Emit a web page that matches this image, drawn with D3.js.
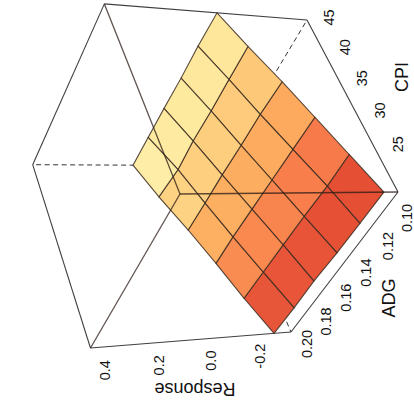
<!DOCTYPE html>
<html><head><meta charset="utf-8"><script src="https://d3js.org/d3.v7.min.js"></script>
<style>html,body{margin:0;padding:0;background:#fff;overflow:hidden}svg{display:block}text{font-family:"Liberation Sans",Arial,sans-serif;fill:#111}</style></head>
<body><svg id="c" width="414" height="410"></svg>
<script>
// Data
const adgGrid=[0.10,0.12,0.14,0.16,0.18,0.20];
const cpiGrid=[18.8,24.0,29.3,34.5,39.8,45.0];
const response=[
[-0.269,-0.267,-0.264,-0.256,-0.257,-0.253],
[-0.209,-0.210,-0.202,-0.198,-0.194,-0.190],
[-0.148,-0.144,-0.140,-0.136,-0.132,-0.133],
[-0.088,-0.080,-0.079,-0.075,-0.075,-0.073],
[-0.020,-0.019,-0.019,-0.015,-0.020,-0.005],
[0.040,0.045,0.045,0.049,0.051,0.053]];
const adgTicks=["0.10","0.12","0.14","0.16","0.18","0.20"];
const cpiTicks=["25","30","35","40","45"];
const respTicks=["-0.2","0.0","0.2","0.4"];
const colorLevels=[-0.239,-0.224,-0.178,-0.162,-0.11,-0.05,-0.043,0.011,0.02];
const colorValues=["#E55035","#E85639","#F77B4A","#F98C50","#FDAC5F","#FDCA7A","#FDD383","#FEE79A","#FEEDA6"];

const u=d3.scaleLinear().domain([0.10,0.20]).range([0,1]);
const v=d3.scaleLinear().domain([18.8,45]).range([0,1]);
const t=d3.scaleLinear().domain([-0.325,0.454]).range([0,1]);
const color=d3.scaleLinear().domain(colorLevels).range(colorValues);
// how far ADG labels stand off the box edge, along the CPI and Response directions
const adgOffV=d3.scaleLinear().domain([0,1]).range([-0.133,-0.07]);
const adgOffT=d3.scaleLinear().domain([0,0.2,1]).range([0.022,-0.012,-0.06]);

// perspective view of the unit box
const C=[398,192],D=[291,332],B=[307,20],H=[180,194];
const wa=.134,wb=.115,wc=-.105;
function proj(a,b,c){
  const w=1+wa*a+wb*b+wc*c;
  return [0,1].map(k=>(C[k]+a*((1+wa)*D[k]-C[k])+b*((1+wb)*B[k]-C[k])+c*((1+wc)*H[k]-C[k]))/w);
}
const svg=d3.select("#c");
const line=d3.line();
const ink="#2a2a2a";
const edge=(p,q,cls)=>svg.append("path").attr("d",line([proj(...p),proj(...q)])).attr("fill","none").attr("stroke",cls.c||ink).attr("stroke-width",cls.w||1).attr("stroke-opacity",cls.o||1).attr("stroke-dasharray",cls.d||null);

// hidden box edges
const dash={d:"5,3.5",c:"#333"};
edge([1,1,0],[1,1,1],dash);edge([1,1,0],[0,1,0],dash);edge([1,1,0],[1,0,0],dash);

// surface cells
const g=svg.append("g");
for(let j=0;j<cpiGrid.length-1;j++)for(let i=0;i<adgGrid.length-1;i++){
  const n=(a,b)=>proj(u(adgGrid[a]),v(cpiGrid[b]),t(response[b][a]));
  const mean=d3.mean([response[j][i],response[j][i+1],response[j+1][i],response[j+1][i+1]]);
  g.append("path").attr("d",line([n(i,j),n(i+1,j),n(i+1,j+1),n(i,j+1)])+"Z")
   .attr("fill",color(mean)).attr("stroke","#3a2a20").attr("stroke-width",1.1).attr("stroke-opacity",.85);
}
// visible box edges
const solid={c:ink,w:1.1,o:.9};
[[[0,1,1],[0,1,0]],[[0,1,0],[0,0,0]],[[0,0,0],[1,0,0]],[[1,0,0],[1,0,1]],[[1,0,1],[1,1,1]],[[1,1,1],[0,1,1]]].forEach(e=>edge(e[0],e[1],solid));
const front={c:"#2a1a14",w:1.3,o:.75};
edge([0,0,1],[0,1,1],front);edge([0,0,1],[1,0,1],front);edge([0,0,1],[0,0,0],front);

// tick labels
const label=(p,s,rot,size)=>svg.append("text").attr("transform",`translate(${p[0]},${p[1]}) rotate(${rot})`)
  .attr("text-anchor","middle").attr("dominant-baseline","central").attr("font-size",size).text(s);
adgTicks.forEach(s=>label(proj(u(+s),adgOffV(u(+s)),adgOffT(u(+s))),s,-90,14.5));
cpiTicks.forEach(s=>label(proj(-0.025,v(+s),-0.108),s,-90,14.5));
respTicks.forEach(s=>label(proj(1.07,-0.07,t(+s)),s,-90,14.5));
label([402,77],"CPI",-90,18);
label([389,298],"ADG",-90,18);
label([195,389],"Response",180,18);
</script></body></html>
